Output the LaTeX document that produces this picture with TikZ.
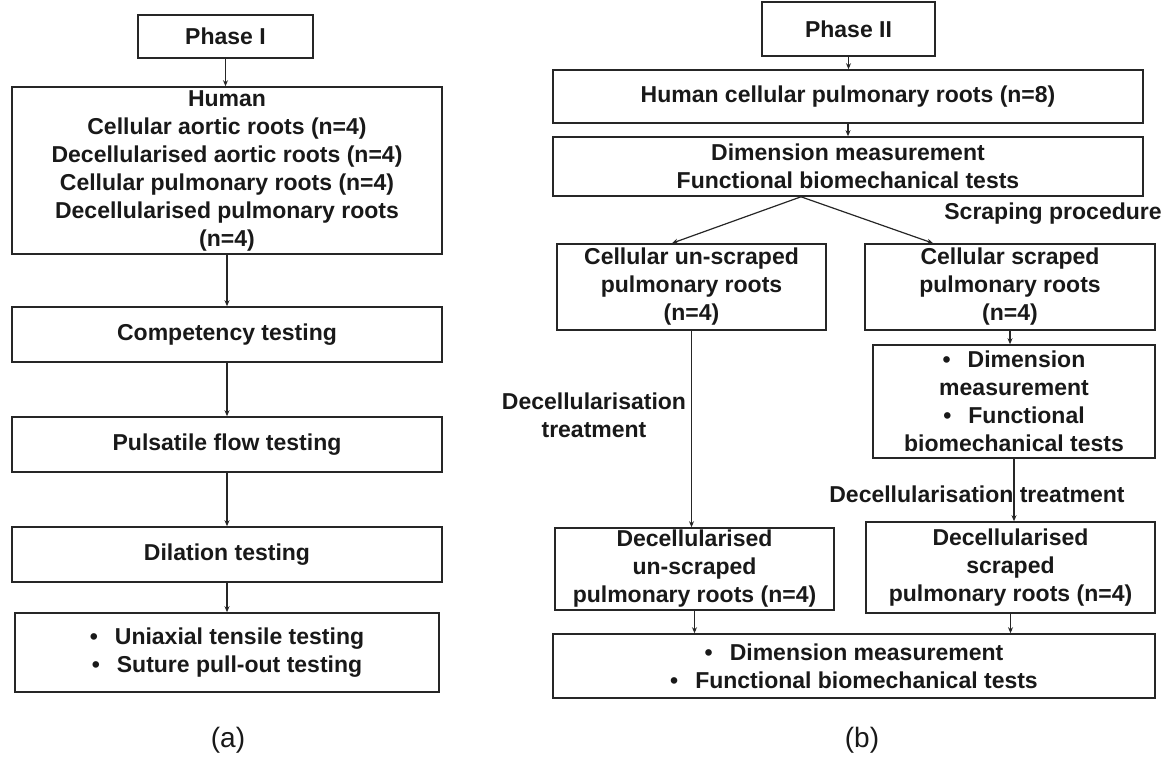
\documentclass[tikz,border=0pt]{standalone}
\usepackage{fontspec}
\setmainfont{Liberation Sans}
\usetikzlibrary{arrows.meta,calc}
\begin{document}
\begin{tikzpicture}[x=1pt,y=-1pt,
  box/.style={draw=black!85, line width=1.6pt, rectangle, inner sep=0pt, align=center,
    font=\fontsize{23}{28}\selectfont\bfseries, text=black!90},
  arr/.style={-{Stealth[length=6pt,width=5pt]}, line width=1.2pt, draw=black!85},
  lbl/.style={align=center, inner sep=0pt, font=\fontsize{23}{28}\selectfont\bfseries, text=black!90},
  captext/.style={inner sep=0pt, font=\fontsize{28}{32}\selectfont, text=black!90}]
\useasboundingbox (0,0) rectangle (1167,757);
\newcommand{\bul}{\textbullet\hspace{17pt}}
% ---------- panel (a)
\node[box, minimum width=175pt, minimum height=43pt] (p1) at (225.5,36.5) {Phase I};
\node[box, minimum width=430pt, minimum height=167pt] (hum) at (227,170.5)
  {Human\\Cellular aortic roots (n=4)\\Decellularised aortic roots (n=4)\\Cellular pulmonary roots (n=4)\\Decellularised pulmonary roots\\(n=4)};
\node[box, minimum width=430pt, minimum height=55pt] (comp) at (227,334.5) {Competency testing};
\node[box, minimum width=430pt, minimum height=55pt] (puls) at (227,444.5) {Pulsatile flow testing};
\node[box, minimum width=430pt, minimum height=55pt] (dil) at (227,554.5) {Dilation testing};
\node[box, minimum width=424pt, minimum height=79pt] (uni) at (227,652.5)
  {\bul Uniaxial tensile testing\\\bul Suture pull-out testing};
\node[captext] (capa) at (228,740) {(a)};
\draw[arr] (p1.south) -- (p1.south |- hum.north);
\draw[arr] (hum.south) -- (comp.north);
\draw[arr] (comp.south) -- (puls.north);
\draw[arr] (puls.south) -- (dil.north);
\draw[arr] (dil.south) -- (uni.north);
% ---------- panel (b)
\node[box, minimum width=173pt, minimum height=54pt] (p2) at (848.5,29) {Phase II};
\node[box, minimum width=590pt, minimum height=53pt] (hcp) at (848,96.5) {Human cellular pulmonary roots (n=8)};
\node[box, minimum width=590pt, minimum height=59pt] (dim) at (848,166.5) {Dimension measurement\\Functional biomechanical tests};
\node[box, minimum width=269pt, minimum height=86pt] (cu) at (691.5,287) {Cellular un-scraped\\pulmonary roots\\(n=4)};
\node[box, minimum width=290pt, minimum height=86pt] (cs) at (1010,287) {Cellular scraped\\pulmonary roots\\(n=4)};
\node[box, minimum width=282pt, minimum height=113pt] (bl) at (1014,401.5)
  {\bul Dimension\\measurement\\\bul Functional\\biomechanical tests};
\node[box, minimum width=279pt, minimum height=82pt] (du) at (694.5,569) {Decellularised\\un-scraped\\pulmonary roots (n=4)};
\node[box, minimum width=289pt, minimum height=91pt] (ds) at (1010.5,567.5) {Decellularised\\scraped\\pulmonary roots (n=4)};
\node[box, minimum width=602pt, minimum height=64pt] (bot) at (854,666)
  {\bul Dimension measurement\\\bul Functional biomechanical tests};
\node[lbl] (sp) at (1053,214) {Scraping procedure};
\node[lbl] (dt1) at (594,415) {Decellularisation\\treatment};
\node[lbl] (dt2) at (977,494) {Decellularisation treatment};
\node[captext] (capb) at (862,740) {(b)};
\coordinate (split) at ($(dim.south)+(-47,0)$);
\draw[arr] (p2.south) -- (p2.south |- hcp.north);
\draw[arr] (hcp.south) -- (dim.north);
\draw[arr] (split) -- ($(cu.north)+(-19.5,0)$);
\draw[arr] (split) -- ($(cs.north)+(-77,0)$);
\draw[arr] (cu.south) -- (cu.south |- du.north);
\draw[arr] (cs.south) -- (cs.south |- bl.north);
\draw[arr] (bl.south) -- (bl.south |- ds.north);
\draw[arr] (du.south) -- (du.south |- bot.north);
\draw[arr] (ds.south) -- (ds.south |- bot.north);
\end{tikzpicture}
\end{document}
